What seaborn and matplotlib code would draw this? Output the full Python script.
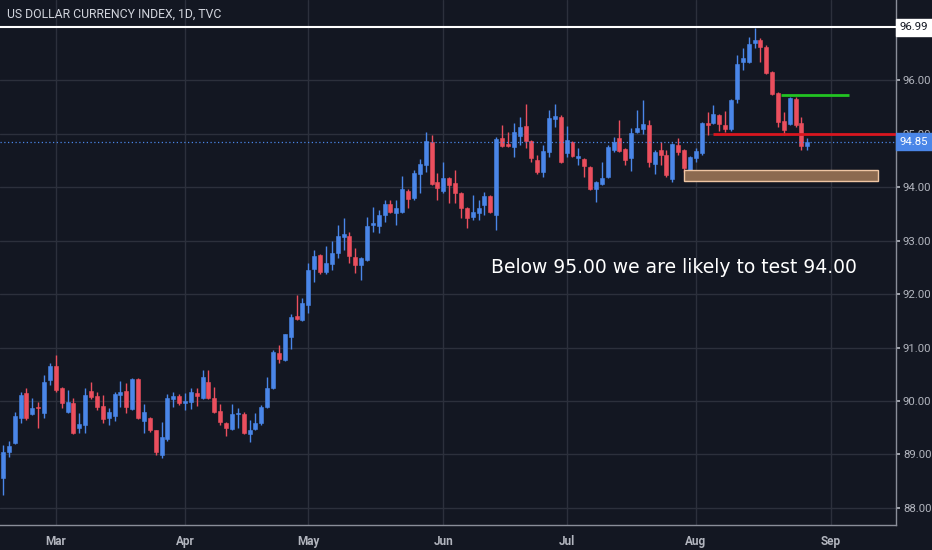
import numpy as np
import pandas as pd
import matplotlib
matplotlib.use("Agg")
import matplotlib.pyplot as plt
import matplotlib.transforms as mtransforms
from matplotlib.patches import Rectangle
import seaborn as sns

# daily candles, US dollar index (TVC)
opens = [88.56, 89.05, 89.21, 89.68, 90.15, 89.76, 89.88, 89.78, 90.39, 90.65,
         90.24, 89.79, 89.96, 89.50, 89.55, 90.19, 90.09, 89.91, 89.68, 89.72,
         90.11, 90.19, 89.85, 90.41, 89.63, 89.68, 89.46, 88.99, 89.29, 90.04,
         90.09, 89.96, 89.98, 90.15, 90.06, 90.35, 90.06, 89.81, 89.59, 89.48,
         89.75, 89.76, 89.38, 89.48, 89.59, 89.89, 90.24, 90.90, 90.77, 91.20,
         91.59, 91.51, 91.79, 92.47, 92.73, 92.41, 92.56, 92.77, 93.06, 93.08,
         92.69, 92.54, 92.64, 93.30, 93.27, 93.48, 93.68, 93.51, 93.53, 93.93,
         93.79, 94.24, 94.41, 94.84, 94.09, 93.93, 94.17, 94.07, 93.89, 93.61,
         93.44, 93.51, 93.66, 93.83, 93.48, 94.92, 94.80, 94.75, 94.95, 95.14,
         94.86, 94.50, 94.28, 94.65, 95.27, 95.31, 94.63, 94.84, 94.55, 94.52,
         94.37, 93.96, 94.06, 94.19, 94.69, 94.92, 94.71, 94.54, 95.03, 95.08,
         95.16, 94.43, 94.69, 94.60, 94.15, 94.78, 94.69, 94.32, 94.54, 94.63,
         95.20, 95.20, 95.35, 95.16, 95.08, 95.64, 96.34, 96.34, 96.69, 96.75,
         96.62, 96.15, 95.76, 95.23, 95.18, 95.64, 95.20, 94.77]
highs = [89.18, 89.25, 89.79, 90.17, 90.24, 90.06, 89.98, 90.49, 90.71, 90.86,
         90.26, 90.21, 90.06, 89.78, 90.24, 90.35, 90.17, 90.11, 89.87, 90.17,
         90.37, 90.34, 90.43, 90.43, 89.94, 89.70, 89.46, 89.61, 90.13, 90.17,
         90.13, 90.15, 90.24, 90.24, 90.58, 90.58, 90.26, 89.94, 89.61, 89.94,
         89.87, 89.79, 89.64, 89.78, 89.93, 90.45, 90.95, 91.05, 91.26, 91.63,
         91.98, 91.92, 92.58, 92.82, 92.75, 92.90, 92.99, 93.29, 93.42, 93.16,
         92.86, 92.69, 93.44, 93.63, 93.57, 93.76, 93.75, 93.76, 94.21, 93.97,
         94.32, 94.52, 95.03, 94.97, 94.26, 94.47, 94.19, 94.32, 93.91, 93.63,
         93.85, 93.76, 93.91, 93.85, 94.93, 95.16, 95.03, 95.20, 95.31, 95.55,
         94.88, 94.60, 94.79, 95.44, 95.55, 95.35, 95.14, 94.86, 94.73, 94.54,
         94.39, 94.11, 94.47, 94.78, 94.93, 95.25, 94.73, 95.10, 95.44, 95.63,
         95.25, 94.69, 94.84, 94.69, 94.82, 94.92, 94.71, 94.58, 94.73, 95.22,
         95.40, 95.53, 95.37, 95.42, 95.65, 96.47, 96.60, 96.80, 96.97, 96.78,
         96.65, 96.17, 95.78, 95.40, 95.68, 95.68, 95.31, 94.92]
lows = [88.24, 88.95, 89.19, 89.59, 89.64, 89.74, 89.50, 89.68, 90.30, 90.17,
        89.87, 89.77, 89.38, 89.40, 89.40, 90.04, 89.83, 89.59, 89.55, 89.63,
        89.89, 89.78, 89.83, 89.66, 89.40, 89.42, 88.99, 88.93, 89.25, 89.89,
        89.93, 89.83, 89.85, 89.91, 90.04, 90.04, 89.77, 89.55, 89.35, 89.46,
        89.50, 89.38, 89.23, 89.46, 89.55, 89.87, 90.22, 90.71, 90.75, 90.97,
        91.51, 91.49, 91.64, 92.22, 92.37, 92.38, 92.45, 92.67, 92.82, 92.58,
        92.39, 92.26, 92.62, 93.16, 93.14, 93.35, 93.51, 93.29, 93.52, 93.61,
        93.76, 93.89, 94.28, 94.04, 93.76, 93.89, 93.70, 93.70, 93.42, 93.23,
        93.38, 93.38, 93.48, 93.51, 93.20, 94.75, 94.75, 94.56, 94.79, 94.73,
        94.47, 94.24, 94.19, 94.56, 95.12, 94.45, 94.56, 94.56, 94.41, 94.19,
        93.94, 93.72, 94.04, 94.17, 94.65, 94.65, 94.41, 94.30, 95.01, 95.00,
        94.37, 94.24, 94.41, 94.19, 94.09, 94.60, 94.28, 94.17, 94.47, 94.61,
        94.97, 95.18, 95.05, 95.03, 95.05, 95.57, 96.19, 96.32, 96.60, 96.34,
        96.11, 95.72, 95.12, 94.97, 95.16, 95.12, 94.69, 94.69]
closes = [89.05, 89.16, 89.72, 90.11, 89.68, 89.87, 89.86, 90.35, 90.65, 90.21,
          89.96, 89.98, 89.40, 89.57, 90.11, 90.07, 89.89, 89.66, 89.79, 90.13,
          90.17, 89.89, 90.41, 89.68, 89.79, 89.46, 89.05, 89.33, 90.06, 90.09,
          89.96, 90.00, 90.17, 90.09, 90.45, 90.06, 89.79, 89.61, 89.50, 89.76,
          89.77, 89.40, 89.46, 89.59, 89.89, 90.24, 90.92, 90.79, 91.25, 91.57,
          91.53, 91.83, 92.45, 92.71, 92.41, 92.58, 92.77, 93.08, 93.12, 92.71,
          92.54, 92.67, 93.27, 93.33, 93.48, 93.68, 93.53, 93.61, 93.96, 93.78,
          94.26, 94.43, 94.86, 94.06, 93.98, 94.17, 94.04, 93.89, 93.61, 93.42,
          93.53, 93.61, 93.83, 93.53, 94.90, 94.77, 94.77, 95.03, 95.12, 94.86,
          94.54, 94.28, 94.67, 95.29, 95.33, 94.47, 94.88, 94.58, 94.57, 94.39,
          93.96, 94.09, 94.17, 94.75, 94.84, 94.67, 94.50, 95.01, 95.10, 95.18,
          94.47, 94.65, 94.60, 94.22, 94.80, 94.65, 94.35, 94.56, 94.67, 95.20,
          95.16, 95.36, 95.18, 95.08, 95.63, 96.30, 96.41, 96.67, 96.75, 96.62,
          96.13, 95.74, 95.21, 95.07, 95.66, 95.16, 94.77, 94.85]

first_day = "2018-02-16"
price_ticks = [88, 89, 90, 91, 92, 93, 94, 95, 96]
title = "US DOLLAR CURRENCY INDEX, 1D, TVC"
note = "Below 95.00 we are likely to test 94.00"
high_mark = 96.99
last_price = 94.85
resistance = 95.00
green_level = 95.72
zone_low, zone_high = 94.11, 94.32

BG = "#131722"
GRID = "#2c303c"
AXIS = "#8a8e99"
TXT = "#b2b5be"
UP = "#4a86e8"
DOWN = "#eb4f5e"

df = pd.DataFrame({"open": opens, "high": highs, "low": lows, "close": closes})
df["date"] = pd.bdate_range(first_day, periods=len(df))
df["x"] = np.arange(len(df))
df["up"] = df["close"] >= df["open"]
df["color"] = np.where(df["up"], UP, DOWN)

sns.set_theme(style="dark", rc={"axes.facecolor": BG, "figure.facecolor": BG,
                                "axes.edgecolor": AXIS, "grid.color": GRID})
plt.rcParams["font.family"] = ["Roboto", "DejaVu Sans"]

fig = plt.figure(figsize=(9.32, 5.5), dpi=100)
ax = fig.add_axes([0, 25 / 550, 896 / 932, 525 / 550])
ax.set_facecolor(BG)

# month ticks at first trading day of each month
all_days = pd.bdate_range(first_day, periods=155)
month_start = all_days.to_series().dt.month.diff().fillna(0) != 0
tick_pos = np.where(month_start.values)[0]
tick_lab = [all_days[i].strftime("%b") for i in tick_pos]

ax.set_xlim(-0.51, 152.1)
ax.set_ylim(87.68, 97.5)
ax.set_xticks(tick_pos)
ax.set_xticklabels(tick_lab)
ax.set_yticks(price_ticks)
ax.set_yticklabels([f"{p:.2f}" for p in price_ticks])
ax.yaxis.tick_right()
ax.grid(True, color=GRID, lw=1)
ax.set_axisbelow(True)
for s in ["left", "top"]:
    ax.spines[s].set_visible(False)
for s in ["right", "bottom"]:
    ax.spines[s].set_color(AXIS)
    ax.spines[s].set_linewidth(1)
ax.tick_params(axis="y", colors=TXT, labelsize=8.2, length=3, pad=2, direction="out")
ax.tick_params(axis="x", colors=TXT, labelsize=8.5, length=3, pad=4, direction="out")
for lab in ax.get_xticklabels():
    lab.set_fontweight("bold")

# candles
ax.vlines(df["x"], df["low"], df["high"], colors=df["color"], lw=1, zorder=3)
body = (df["close"] - df["open"]).abs().clip(lower=0.025)
ax.bar(df["x"], body, bottom=df[["open", "close"]].min(axis=1), width=0.68,
       color=df["color"], edgecolor=df["color"], lw=0.4, zorder=4)

# drawn levels
ax.axhline(high_mark, color="white", lw=1.5, zorder=5)
ax.axhline(last_price, color=UP, lw=0.9, ls=(0, (1, 2)), zorder=5)
ax.hlines(resistance, 121, 152.1, color="#d9161f", lw=2, zorder=6)
ax.hlines(green_level, 132.5, 144.1, color="#22c322", lw=2, zorder=6)
ax.add_patch(Rectangle((116, zone_low), 33, zone_high - zone_low,
                       facecolor="#8c6a50", edgecolor="#f0c6a4", lw=1, zorder=6))

# price labels on the scale
tr = mtransforms.blended_transform_factory(ax.transAxes, ax.transData)
ax.text(1.004, high_mark, f"{high_mark:.2f}", transform=tr, ha="left", va="center",
        fontsize=8.2, color="#131722", clip_on=False, zorder=10,
        bbox=dict(boxstyle="square,pad=0.3", fc="white", ec="white"))
ax.text(1.004, last_price, f"{last_price:.2f}", transform=tr, ha="left", va="center",
        fontsize=8.2, color="white", clip_on=False, zorder=10,
        bbox=dict(boxstyle="square,pad=0.3", fc=UP, ec=UP))

ax.text(7 / 896, 1 - 14 / 525, title, transform=ax.transAxes, ha="left", va="center",
        fontsize=8.8, color="#d1d4dc")
ax.text(83.1, 92.49, note, ha="left", va="center", fontsize=13.5, color="white",
        family="DejaVu Sans", zorder=7)

fig.savefig("out.png", dpi=100, facecolor=BG)
